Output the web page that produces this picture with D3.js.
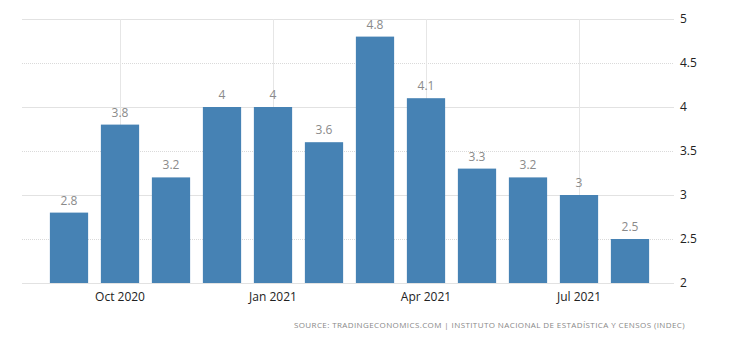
<!DOCTYPE html>
<html>
<head>
<meta charset="utf-8">
<script src="https://cdn.jsdelivr.net/npm/d3@7"></script>
<style>
  body { margin: 0; background: #fff; }
  svg { font-family: "Open Sans", "Liberation Sans", sans-serif; }
</style>
</head>
<body>
<script>
const months = ['Sep 2020', 'Oct 2020', 'Nov 2020', 'Dec 2020', 'Jan 2021', 'Feb 2021',
                'Mar 2021', 'Apr 2021', 'May 2021', 'Jun 2021', 'Jul 2021', 'Aug 2021'];
const values = [2.8, 3.8, 3.2, 4, 4, 3.6, 4.8, 4.1, 3.3, 3.2, 3, 2.5];
const xTickLabels = ['Oct 2020', 'Jan 2021', 'Apr 2021', 'Jul 2021'];
const yTicks = [2, 2.5, 3, 3.5, 4, 4.5, 5];
const source = 'SOURCE: TRADINGECONOMICS.COM | INSTITUTO NACIONAL DE ESTADÍSTICA Y CENSOS (INDEC)';

const width = 730, height = 340;

const svg = d3.select('body').append('svg')
    .attr('width', width)
    .attr('height', height);

const x = d3.scaleBand()
    .domain(months)
    .range([43.5, 655.5])
    .paddingInner(0.25)
    .paddingOuter(0.125);

const y = d3.scaleLinear()
    .domain([2, 5])
    .range([283, 19]);

const gridLeft = 22, gridRight = 674;

// horizontal grid
svg.append('g').selectAll('line')
    .data(yTicks)
    .join('line')
    .attr('x1', gridLeft)
    .attr('x2', gridRight)
    .attr('y1', d => Math.round(y(d)) + 0.5)
    .attr('y2', d => Math.round(y(d)) + 0.5)
    .attr('stroke', d => Number.isInteger(d) ? '#e2e2e2' : '#dadada')
    .attr('stroke-dasharray', d => Number.isInteger(d) ? null : '1,1');

// vertical grid at labelled months
svg.append('g').selectAll('line')
    .data(xTickLabels)
    .join('line')
    .attr('x1', d => Math.round(x(d) + x.bandwidth() / 2) + 0.5)
    .attr('x2', d => Math.round(x(d) + x.bandwidth() / 2) + 0.5)
    .attr('y1', y(5))
    .attr('y2', y(2))
    .attr('stroke', '#e6e6e6');

// bars
svg.append('g').selectAll('rect')
    .data(values)
    .join('rect')
    .attr('x', (d, i) => x(months[i]))
    .attr('width', x.bandwidth())
    .attr('y', d => y(d))
    .attr('height', d => y(2) - y(d))
    .attr('fill', '#4682b4');

// value labels
svg.append('g').selectAll('text')
    .data(values)
    .join('text')
    .attr('x', (d, i) => x(months[i]) + x.bandwidth() / 2)
    .attr('y', d => y(d) - 8)
    .attr('text-anchor', 'middle')
    .attr('font-size', 12)
    .attr('fill', '#8a8a8a')
    .text(d => d);

// y axis on the right
const yAxis = svg.append('g')
    .attr('transform', `translate(${gridRight}, 0)`)
    .call(d3.axisRight(y).tickValues(yTicks).tickSize(0).tickPadding(6).tickFormat(d3.format('')));
yAxis.select('.domain').remove();
yAxis.selectAll('text')
    .attr('font-family', '"Open Sans", "Liberation Sans", sans-serif')
    .attr('font-size', 12)
    .attr('fill', '#222');

// x axis
const xAxis = svg.append('g')
    .attr('transform', `translate(0, ${y(2)})`)
    .call(d3.axisBottom(x).tickValues(xTickLabels).tickSize(0).tickPadding(9));
xAxis.select('.domain').remove();
xAxis.selectAll('text')
    .attr('font-family', '"Open Sans", "Liberation Sans", sans-serif')
    .attr('font-size', 12)
    .attr('fill', '#222');

// source
svg.append('text')
    .attr('x', 685)
    .attr('y', 328)
    .attr('text-anchor', 'end')
    .attr('font-size', 8)
    .attr('letter-spacing', 0.4)
    .attr('fill', '#888')
    .text(source);
</script>
</body>
</html>
